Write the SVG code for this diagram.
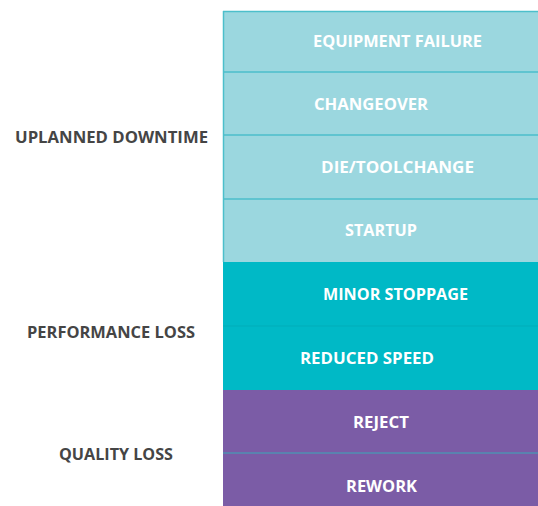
<svg xmlns="http://www.w3.org/2000/svg" width="538" height="506" viewBox="0 0 538 506">
<style>
.lbl{font-family:"Open Sans","Liberation Sans",sans-serif;font-weight:700;font-size:15.5px;fill:#ffffff}
.cat{font-family:"Open Sans","Liberation Sans",sans-serif;font-weight:700;font-size:15.5px;fill:#454545}
.l{fill:#9bd7df}
.t{fill:#00b9c6}
.p{fill:#7b5ca6}
</style>
<rect x="0" y="0" width="538" height="506" fill="#ffffff"/>
<g id="equipment-failure"><rect class="l" x="223" y="11" width="316" height="61"/><text class="lbl" x="313" y="47" textLength="169" lengthAdjust="spacingAndGlyphs">EQUIPMENT FAILURE</text></g>
<g id="changeover"><rect class="l" x="223" y="72" width="316" height="63"/><text class="lbl" x="314" y="110" textLength="114" lengthAdjust="spacingAndGlyphs">CHANGEOVER</text></g>
<g id="die-toolchange"><rect class="l" x="223" y="135" width="316" height="64"/><text class="lbl" x="321" y="173" textLength="153" lengthAdjust="spacingAndGlyphs">DIE/TOOLCHANGE</text></g>
<g id="startup"><rect class="l" x="223" y="199" width="316" height="63"/><text class="lbl" x="345" y="236" textLength="72" lengthAdjust="spacingAndGlyphs">STARTUP</text></g>
<g id="minor-stoppage"><rect class="t" x="223" y="262" width="316" height="64"/><text class="lbl" x="323" y="300" textLength="145" lengthAdjust="spacingAndGlyphs">MINOR STOPPAGE</text></g>
<g id="reduced-speed"><rect class="t" x="223" y="326" width="316" height="64"/><text class="lbl" x="300" y="364" textLength="134" lengthAdjust="spacingAndGlyphs">REDUCED SPEED</text></g>
<g id="reject"><rect class="p" x="223" y="390" width="316" height="63"/><text class="lbl" x="353" y="428" textLength="56" lengthAdjust="spacingAndGlyphs">REJECT</text></g>
<g id="rework"><rect class="p" x="223" y="453" width="316" height="53"/><text class="lbl" x="346" y="492" textLength="71" lengthAdjust="spacingAndGlyphs">REWORK</text></g>
<g id="dividers" fill="none" stroke-width="1.5">
<path d="M223 11.5H539M223 72H539M223 135H539M223 199H539" stroke="#4cbfcb"/>
<path d="M223 326H539" stroke="#00adb9" stroke-width="1"/>
<path d="M223 453H539" stroke="#3aa9b8" stroke-width="1"/>
<path d="M223.5 11V262" stroke="#4cbfcb"/>
</g>
<g id="categories">
<text class="cat" x="15" y="143" textLength="193" lengthAdjust="spacingAndGlyphs">UPLANNED DOWNTIME</text>
<text class="cat" x="27" y="338" textLength="168" lengthAdjust="spacingAndGlyphs">PERFORMANCE LOSS</text>
<text class="cat" x="59" y="460" textLength="114" lengthAdjust="spacingAndGlyphs">QUALITY LOSS</text>
</g>
</svg>
